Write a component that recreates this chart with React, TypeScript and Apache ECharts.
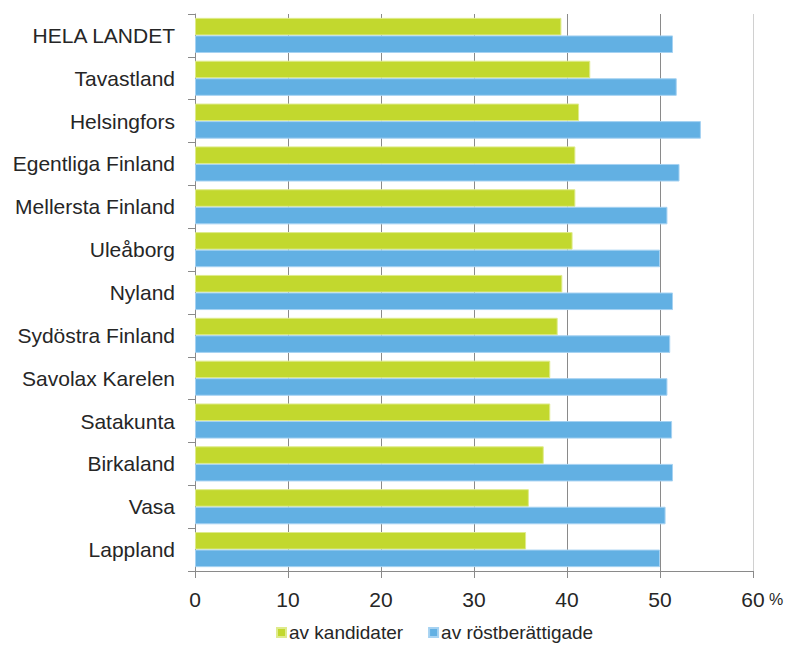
import React, { useEffect, useRef } from "react";
import * as echarts from "echarts";

const categories = [
  "HELA LANDET",
  "Tavastland",
  "Helsingfors",
  "Egentliga Finland",
  "Mellersta Finland",
  "Uleåborg",
  "Nyland",
  "Sydöstra Finland",
  "Savolax Karelen",
  "Satakunta",
  "Birkaland",
  "Vasa",
  "Lappland",
];

const kandidater = [39.4, 42.5, 41.3, 40.9, 40.9, 40.6, 39.5, 39.0, 38.2, 38.2, 37.5, 35.9, 35.6];
const rostberattigade = [51.4, 51.8, 54.4, 52.1, 50.8, 50.0, 51.4, 51.1, 50.8, 51.3, 51.4, 50.6, 50.0];

const seriesNames = ["av kandidater", "av röstberättigade"];
const xTicks = { min: 0, max: 60, interval: 10 };

const FONT = "'Liberation Sans', Arial, sans-serif";

export default function App() {
  const ref = useRef<HTMLDivElement>(null);

  useEffect(() => {
    document.body.style.margin = "0";
    if (!ref.current) return;
    const chart = echarts.init(ref.current, null, { renderer: "svg" });
    chart.setOption({
      animation: false,
      backgroundColor: "#ffffff",
      textStyle: { fontFamily: FONT },
      grid: { left: 195, right: 34, top: 14, bottom: 74, containLabel: false },
      legend: {
        bottom: -2,
        left: 271,
        itemWidth: 9,
        itemHeight: 9,
        itemGap: 25,
        icon: "rect",
        textStyle: { fontFamily: FONT, fontSize: 19, color: "#262626", padding: [0, 0, 0, -2] },
        data: seriesNames,
      },
      xAxis: {
        type: "value",
        min: xTicks.min,
        max: xTicks.max,
        interval: xTicks.interval,
        axisLine: { show: true, lineStyle: { color: "#8a8a8a", width: 1 } },
        axisTick: { show: true, length: 7, lineStyle: { color: "#8a8a8a" } },
        axisLabel: {
          margin: 18,
          fontFamily: FONT,
          fontSize: 21,
          color: "#262626",
          formatter: (v: number) => (v === xTicks.max ? "{h| %}" + v + "{p| %}" : String(v)),
          rich: {
            h: { fontSize: 16, color: "rgba(0,0,0,0)", fontFamily: FONT },
            p: { fontSize: 16, color: "#262626", fontFamily: FONT },
          },
        },
        splitLine: {
          show: true,
          lineStyle: {
            color: ["#8a8a8a", "#8a8a8a", "#8a8a8a", "#8a8a8a", "#8a8a8a", "#8a8a8a", "#d0d0d0"],
            width: 1,
          },
        },
      },
      yAxis: {
        type: "category",
        data: categories,
        inverse: true,
        axisLine: { show: true, lineStyle: { color: "#8a8a8a", width: 1 } },
        axisTick: { show: true, length: 7, lineStyle: { color: "#8a8a8a" } },
        axisLabel: { margin: 20, fontFamily: FONT, fontSize: 21, color: "#262626" },
        splitLine: { show: false },
      },
      series: [
        {
          name: seriesNames[0],
          type: "bar",
          data: kandidater,
          barGap: "0%",
          barCategoryGap: "18%",
          itemStyle: { color: "#c2d82e", borderColor: "#dfeb8c", borderWidth: 1 },
        },
        {
          name: seriesNames[1],
          type: "bar",
          data: rostberattigade,
          barGap: "0%",
          barCategoryGap: "18%",
          itemStyle: { color: "#62b0e3", borderColor: "#a6d2f2", borderWidth: 1 },
        },
      ],
    });
    return () => chart.dispose();
  }, []);

  return <div ref={ref} style={{ width: 787, height: 645 }} />;
}
